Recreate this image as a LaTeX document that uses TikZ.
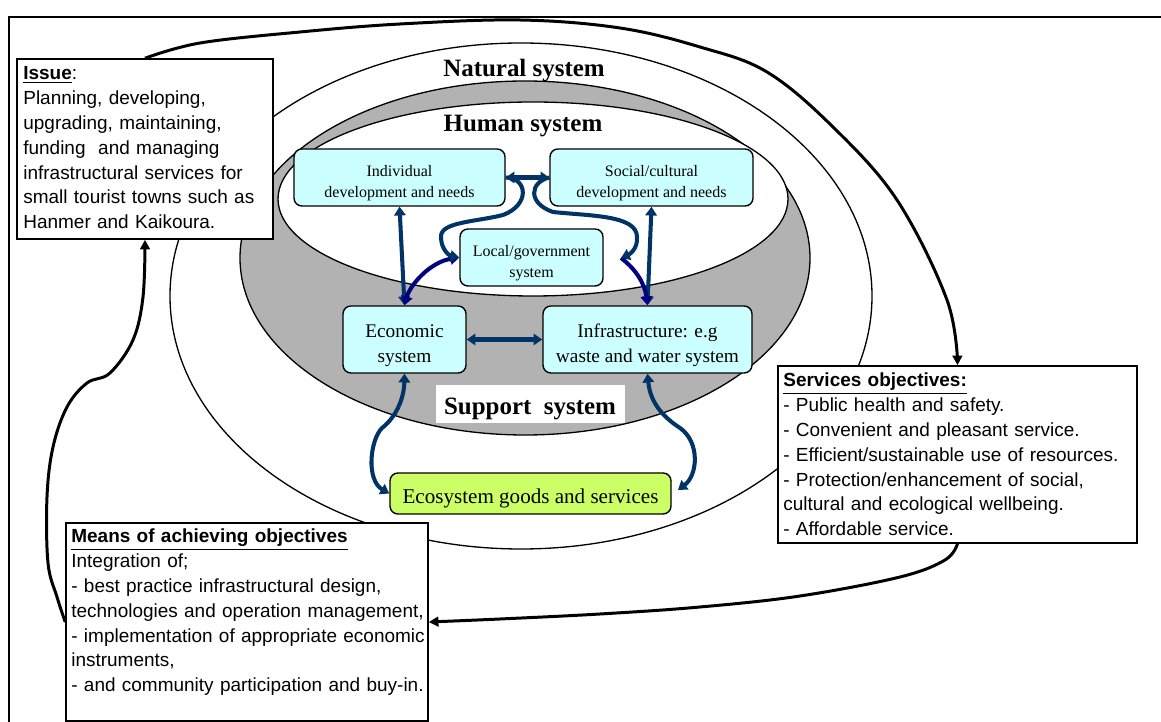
\documentclass[tikz,border=0pt]{standalone}
\usepackage{fontspec}
\setmainfont{Liberation Serif}
\newfontfamily\sansf{Liberation Sans}
\usetikzlibrary{arrows.meta,calc}
\definecolor{boxcyan}{HTML}{CCFFFF}
\definecolor{ecogreen}{HTML}{CCFF66}
\definecolor{bandgray}{HTML}{B2B2B2}
\definecolor{linkblue}{HTML}{003366}
\definecolor{linknavy}{HTML}{000080}
\begin{document}
\begin{tikzpicture}[x=0.02cm,y=-0.02cm,
  sz/.style 2 args={minimum width=#1*0.02cm, minimum height=#2*0.02cm},
  sysbox/.style={draw=black, line width=0.8pt, rounded corners=4.5pt, fill=boxcyan, inner sep=0pt},
  systext/.style={inner sep=0pt, align=center, font=\fontsize{9.1}{12}\selectfont},
  bigtext/.style={systext, font=\fontsize{11}{14.2}\selectfont},
  textbox/.style={draw=black, line width=0.85pt, fill=white, inner sep=0pt},
  boxtext/.style={anchor=base west, inner sep=0pt, text width=8cm, align=left, font=\sansf\fontsize{10.8}{14.1}\selectfont},
  title/.style={anchor=base, inner sep=0pt, font=\bfseries\fontsize{14.2}{17}\selectfont},
  ring/.style={draw=black, line width=0.75pt},
  bluelink/.style={draw=linkblue, line width=2.3pt, line join=round, arrows={Triangle[length=5pt,width=6.5pt]-Triangle[length=5pt,width=6.5pt]}},
  bluehead/.style={draw=linkblue, line width=2.3pt, line join=round, arrows={-Triangle[length=5pt,width=6.5pt]}},
  navylink/.style={draw=linknavy, line width=2.3pt, line join=round, arrows={Triangle[length=5pt,width=6.5pt]-Triangle[length=5pt,width=6.5pt]}},
  navyhead/.style={draw=linknavy, line width=2.3pt, line join=round, arrows={-Triangle[length=5pt,width=6.5pt]}},
  blacklink/.style={draw=black, line width=1.7pt, line join=round, arrows={-Triangle[length=5.5pt,width=5.5pt]}}
]
\useasboundingbox (0,0) rectangle (1161,722);
% frame
\draw[line width=0.85pt] (1161,17) -- (9,17) -- (9,722);

% system ellipses
\path[ring, fill=white] (521,296) ellipse [x radius=351, y radius=253];
\path[ring, fill=bandgray] (525,258) ellipse [x radius=285, y radius=177];
\path[ring, fill=white] (533,199) ellipse [x radius=255, y radius=97];

\node[title] (natt) at (524,77) {Natural system};
\node[title] (humt) at (523,132) {Human system};
\node[fill=white, inner sep=0pt, sz={189}{38}] (supbox) at (530.5,404) {};
\node[title] (supt) at (530,415) {Support\ \ system};

% subsystem boxes
\node[sysbox, sz={211}{57}] (ind) at (399.5,177.5) {};
\node[sysbox, sz={203}{57}] (soc) at (651.5,177.5) {};
\node[sysbox, sz={143}{57}] (loc) at (531.5,257.5) {};
\node[sysbox, sz={123}{67}] (eco) at (404.5,339.5) {};
\node[sysbox, sz={209}{67}] (inf) at (647.5,339.5) {};
\node[sysbox, fill=ecogreen, sz={281}{41}] (ecs) at (530.5,493.5) {};

\node[systext] (indt) at ($(ind.center)+(0,6)$) {Individual\\development and needs};
\node[systext] (soct) at ($(soc.center)+(0,6)$) {Social/cultural\\development and needs};
\node[systext] (loct) at ($(loc.center)+(0,6)$) {Local/government\\system};
\node[bigtext] (ecot) at ($(eco.center)+(0,6)$) {Economic\\system};
\node[bigtext] (inft) at ($(inf.center)+(0,6)$) {Infrastructure: e.g\\waste and water system};
\node[systext, font=\fontsize{12}{14}\selectfont] (ecst) at ($(ecs.center)+(0,5)$) {Ecosystem goods and services};

\coordinate (locR) at (621,258);
\coordinate (ecsR) at (678,490);

% blue links
\draw[bluelink] (ind.east) -- (soc.west);
\draw[bluelink] (ind.south) -- (eco.north);
\draw[bluelink] (soc.south) -- (inf.north);
\draw[bluelink] (eco.east) -- (inf.west);
\draw[navylink] (eco.north) .. controls (410,285) and (430,262) .. (loc.west);
\draw[navyhead] (locR) .. controls (637,270) and (645,285) .. (inf.north);
\draw[bluehead] (ind.east) .. controls (528,178) and (530,205) .. (503,215)
  .. controls (475,222) and (440,222) .. (441,237)
  .. controls (441,250) and (450,256) .. (loc.west);
\draw[bluehead] (soc.west) .. controls (530,182) and (527,203) .. (553,212)
  .. controls (590,216) and (637,215) .. (637,237)
  .. controls (638,250) and (628,255) .. (locR);
\draw[bluelink] (eco.south) .. controls (404,400) and (395,418) .. (382,428)
  .. controls (370,440) and (366,480) .. (ecs.west);
\draw[bluelink] (inf.south) .. controls (650,400) and (660,415) .. (680,428)
  .. controls (700,442) and (698,475) .. (ecsR);

% text boxes
\node[textbox, sz={256}{180}] (iss) at (145,149) {};
\node[textbox, sz={359}{177}] (svc) at (957.5,454.5) {};
\node[textbox, sz={362}{198}] (mea) at (247,622) {};

\node[boxtext] (isst) at (23,80) {\underline{\textbf{Issue}}:\\
Planning, developing,\\
upgrading, maintaining,\\
funding\ \ and managing\\
infrastructural services for\\
small tourist towns such as\\
Hanmer and Kaikoura.};

\node[boxtext] (svct) at (783,387) {\underline{\textbf{Services objectives:}}\\
- Public health and safety.\\
- Convenient and pleasant service.\\
- Efficient/sustainable use of resources.\\
- Protection/enhancement of social,\\
cultural and ecological wellbeing.\\
- Affordable service.};

\node[boxtext] (meat) at (71,543) {\underline{\textbf{Means of achieving objectives}}\\
Integration of;\\
- best practice infrastructural design,\\
technologies and operation management,\\
- implementation of appropriate economic\\
instruments,\\
- and community participation and buy-in.};

% black feedback loop
\draw[blacklink] plot[smooth, tension=0.6] coordinates {(iss.north) (200,43) (300,32) (400,24) (520,20) (620,28) (700,47) (767,72) (833,127) (897,200) (947,300) (svc.north)};
\draw[blacklink] plot[smooth, tension=0.6] coordinates {(svc.south) (945,560) (900,577) (800,596) (700,607) (600,614) (500,619) (mea.east)};
\draw[blacklink] plot[smooth, tension=0.6] coordinates {(mea.west) (57,597) (48,563) (47,497) (53,447) (67,407) (87,383) (110,373) (133,340) (143,297) (iss.south)};
\end{tikzpicture}
\end{document}
